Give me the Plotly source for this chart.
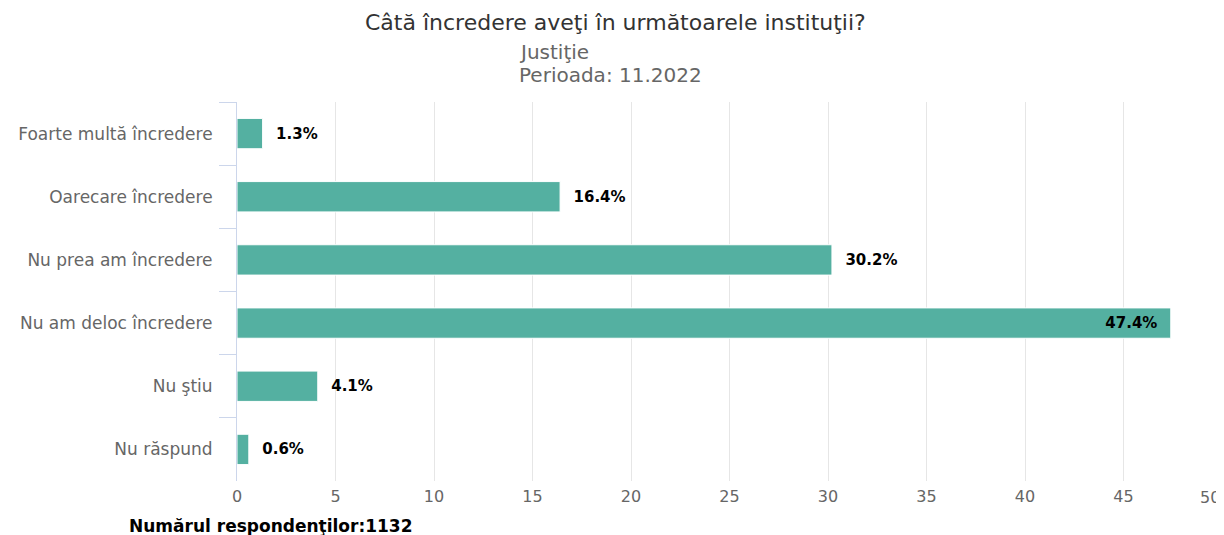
import plotly.graph_objects as go

categories = ["Foarte multă încredere", "Oarecare încredere", "Nu prea am încredere",
              "Nu am deloc încredere", "Nu ştiu", "Nu răspund"]
values = [1.3, 16.4, 30.2, 47.4, 4.1, 0.6]
x_ticks = [0, 5, 10, 15, 20, 25, 30, 35, 40, 45, 50]

title_text = "Câtă încredere aveţi în următoarele instituţii?"
subtitle_lines = ["Justiţie", "Perioada: 11.2022"]
footer_text = "Numărul respondenţilor:1132"

FONT = "DejaVu Sans"
BAR = "#54b0a1"

# page has an 8px body margin; figure is sized/placed to compensate
PAGE_OFF = 8
PLOT_L, PLOT_R, PLOT_T, PLOT_B = 237, 1222, 102, 481
W, H = 1224 - PAGE_OFF, 535 - PAGE_OFF
PW = PLOT_R - PLOT_L

positions = ["inside" if v > 40 else "outside" for v in values]
labels = [(f"{v}%  " if p == "inside" else f"  {v}%") for v, p in zip(values, positions)]

fig = go.Figure(go.Bar(
    x=values, y=categories, orientation="h",
    marker=dict(color=BAR, line=dict(color="#ffffff", width=1)),
    text=labels,
    textposition=positions,
    insidetextanchor="end",
    textfont=dict(family=FONT, size=15, color="#000000", weight="bold"),
    cliponaxis=False,
    hoverinfo="skip",
))

tick_text = [str(t) if t != x_ticks[-1] else "" for t in x_ticks]

fig.update_layout(
    width=W, height=H,
    margin=dict(l=PLOT_L - PAGE_OFF, r=W - (PLOT_R - PAGE_OFF), t=PLOT_T - PAGE_OFF,
                b=H - (PLOT_B - PAGE_OFF)),
    paper_bgcolor="white", plot_bgcolor="white",
    bargap=0.52,
    showlegend=False,
    font=dict(family=FONT, color="#666666"),
    xaxis=dict(range=[0, 50], tickvals=x_ticks, ticktext=tick_text, showgrid=True,
               gridcolor="#e6e6e6", gridwidth=1, zeroline=False, showline=False, ticks="",
               tickfont=dict(size=16, color="#666666"), ticklabelstandoff=4,
               automargin=False),
    yaxis=dict(autorange="reversed", showline=True, linecolor="#ccd6eb", linewidth=1,
               ticks="outside", tickson="boundaries", ticklen=17, tickcolor="#ccd6eb",
               tickfont=dict(size=17, color="#666666"), ticklabelstandoff=20,
               showgrid=False, automargin=False),
    annotations=[
        dict(text=title_text, xref="paper", yref="paper", x=(615 - PLOT_L) / PW, y=1,
             yshift=PLOT_T - 22, xanchor="center", yanchor="middle", showarrow=False,
             font=dict(family=FONT, size=22, color="#333333")),
        dict(text=subtitle_lines[0], xref="paper", yref="paper", x=(517 - PLOT_L) / PW, y=1,
             yshift=PLOT_T - 52, xanchor="left", yanchor="middle", showarrow=False,
             font=dict(family=FONT, size=20, color="#666666")),
        dict(text=subtitle_lines[1], xref="paper", yref="paper", x=(517 - PLOT_L) / PW, y=1,
             yshift=PLOT_T - 75, xanchor="left", yanchor="middle", showarrow=False,
             font=dict(family=FONT, size=20, color="#666666")),
        dict(text=str(x_ticks[-1]), xref="x", yref="paper", x=x_ticks[-1], y=0,
             yshift=-(497 - PLOT_B), xanchor="right", yanchor="middle", showarrow=False,
             font=dict(family=FONT, size=16, color="#666666")),
        dict(text="<b>" + footer_text + "</b>", xref="paper", yref="paper",
             x=(127 - PLOT_L) / PW, y=0, yshift=-(526 - PLOT_B), xanchor="left",
             yanchor="middle", showarrow=False,
             font=dict(family=FONT, size=17, color="#000000")),
    ],
)

fig.write_html("out.html")
